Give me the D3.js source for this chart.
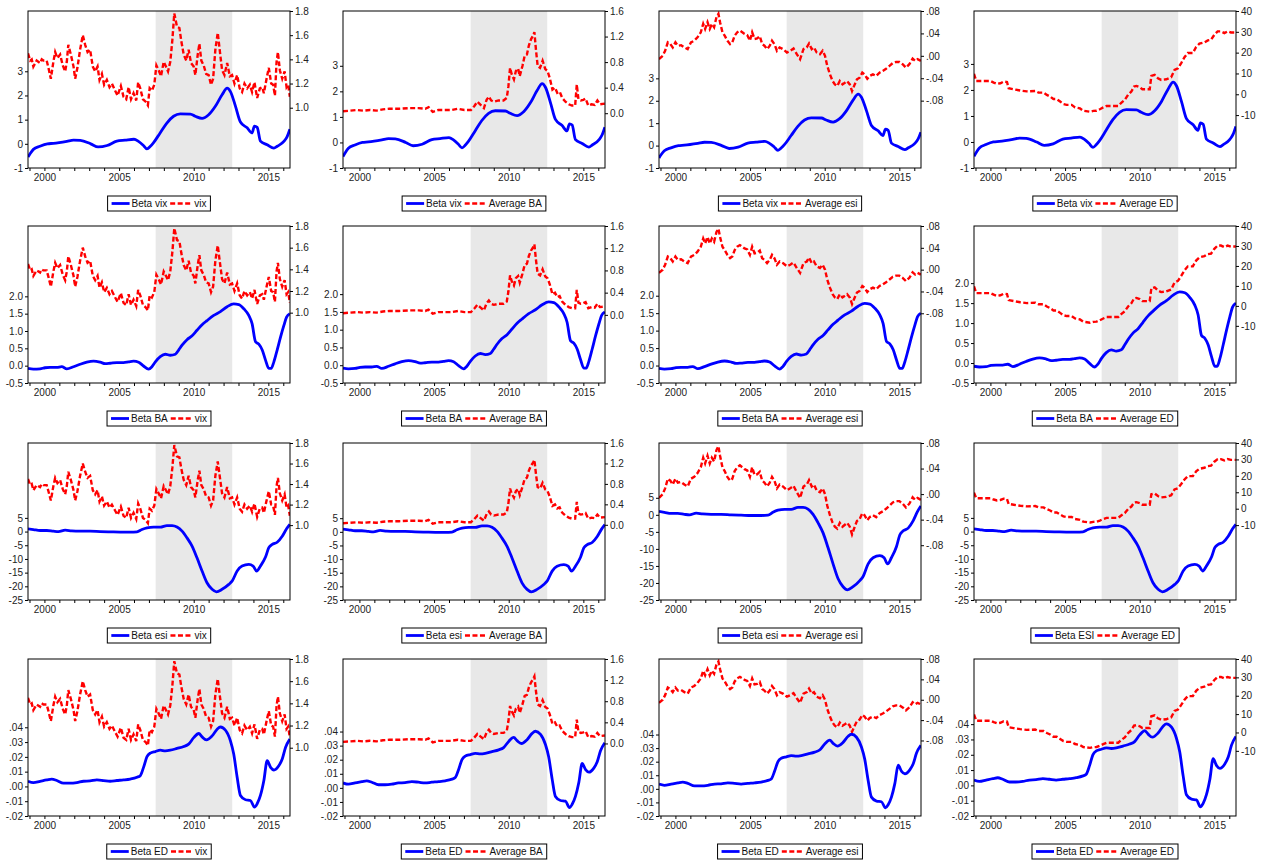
<!DOCTYPE html>
<html>
<head>
<meta charset="utf-8">
<script src="https://cdn.jsdelivr.net/npm/d3@7"></script>
<style>
body { margin: 0; background: #fff; }
text { font-family: "Liberation Sans Narrow", "Arial Narrow", "Liberation Sans", Arial, sans-serif; }
</style>
</head>
<body>
<script>
const W = 1263, H = 862;

// ---- data (fractional years) ----
const betaVix = [[1998.9,-0.55],[1999.05,-0.4],[1999.26,-0.23],[1999.7,-0.1],[2000.2,0.0],[2000.6,0.02],[2001.5,0.1],[2001.95,0.15],[2002.4,0.14],[2003.1,0.0],[2003.6,-0.13],[2004.2,-0.07],[2004.85,0.11],[2005.4,0.15],[2006.0,0.19],[2006.3,0.1],[2006.6,-0.05],[2006.87,-0.21],[2007.1,-0.1],[2007.3,0.04],[2007.75,0.45],[2008.2,0.86],[2008.65,1.14],[2009.1,1.24],[2009.78,1.23],[2010.1,1.14],[2010.56,1.05],[2011.0,1.2],[2011.45,1.55],[2011.9,2.03],[2012.24,2.3],[2012.46,2.16],[2012.8,1.55],[2013.13,0.9],[2013.58,0.66],[2013.9,0.45],[2014.07,0.73],[2014.25,0.68],[2014.47,0.11],[2014.92,-0.04],[2015.37,-0.18],[2015.6,-0.1],[2016.04,0.1],[2016.26,0.3],[2016.44,0.6]];

const betaBA = [[1998.9,-0.08],[1999.26,-0.1],[1999.71,-0.09],[2000.04,-0.06],[2000.38,-0.05],[2000.83,-0.05],[2001.16,-0.03],[2001.5,-0.09],[2001.95,-0.03],[2002.39,0.04],[2002.84,0.1],[2003.29,0.13],[2003.74,0.1],[2004.07,0.06],[2004.4,0.07],[2004.85,0.09],[2005.3,0.09],[2005.64,0.11],[2005.97,0.13],[2006.31,0.1],[2006.64,-0.01],[2006.98,-0.1],[2007.2,-0.03],[2007.43,0.11],[2007.76,0.26],[2008.1,0.33],[2008.43,0.3],[2008.77,0.33],[2008.99,0.45],[2009.22,0.59],[2009.55,0.75],[2009.89,0.86],[2010.22,1.02],[2010.56,1.18],[2010.89,1.3],[2011.34,1.45],[2011.79,1.56],[2012.24,1.7],[2012.68,1.78],[2013.02,1.76],[2013.36,1.64],[2013.69,1.45],[2013.91,1.21],[2014.14,0.69],[2014.36,0.62],[2014.59,0.45],[2014.81,0.16],[2015.03,-0.08],[2015.19,-0.08],[2015.37,0.11],[2015.59,0.45],[2015.82,0.83],[2016.04,1.16],[2016.22,1.4],[2016.44,1.5]];

const betaEsi = [[1998.9,1.0],[1999.26,0.75],[1999.71,0.4],[2000.16,0.4],[2000.6,0.15],[2000.94,0.0],[2001.39,0.5],[2001.83,0.25],[2002.39,0.15],[2003.06,0.15],[2003.74,0.0],[2004.4,-0.1],[2005.08,-0.2],[2005.75,-0.2],[2006.2,-0.1],[2006.53,0.75],[2006.87,1.35],[2007.32,1.6],[2007.76,1.6],[2008.21,2.2],[2008.55,2.2],[2008.88,1.7],[2009.22,0.15],[2009.55,-2.3],[2009.89,-5.3],[2010.22,-9.6],[2010.56,-14.4],[2010.89,-18.7],[2011.23,-21.1],[2011.52,-22.0],[2011.9,-21.1],[2012.35,-19.3],[2012.57,-18.1],[2012.91,-14.4],[2013.24,-12.6],[2013.69,-12.0],[2013.98,-12.6],[2014.21,-14.4],[2014.47,-12.6],[2014.81,-9.3],[2015.03,-5.9],[2015.26,-4.7],[2015.59,-3.9],[2015.93,-1.7],[2016.22,1.0],[2016.44,2.6]];

const betaED = [[1998.9,0.0035],[1999.26,0.0026],[1999.71,0.0035],[2000.16,0.0044],[2000.49,0.005],[2000.83,0.004],[2001.28,0.0022],[2001.72,0.0022],[2002.17,0.0026],[2002.62,0.0035],[2003.06,0.0037],[2003.51,0.0044],[2003.96,0.004],[2004.4,0.0035],[2004.85,0.004],[2005.3,0.0044],[2005.75,0.005],[2006.2,0.0062],[2006.42,0.0073],[2006.64,0.0129],[2006.87,0.0201],[2007.09,0.0225],[2007.43,0.0236],[2007.76,0.0245],[2008.1,0.0241],[2008.43,0.0245],[2008.88,0.0257],[2009.33,0.027],[2009.66,0.0286],[2010.0,0.033],[2010.34,0.0358],[2010.56,0.0335],[2010.85,0.0315],[2011.23,0.0342],[2011.57,0.0387],[2011.79,0.0402],[2012.13,0.038],[2012.46,0.0308],[2012.68,0.0219],[2012.91,0.0062],[2013.13,-0.0061],[2013.47,-0.009],[2013.8,-0.0095],[2014.07,-0.014],[2014.25,-0.0117],[2014.47,-0.0061],[2014.7,0.004],[2014.92,0.0174],[2015.15,0.0129],[2015.37,0.0111],[2015.7,0.014],[2015.93,0.0185],[2016.15,0.0263],[2016.44,0.032]];

const vix = [[1998.9,1.45],[1999.05,1.39],[1999.15,1.40],[1999.26,1.34],[1999.48,1.39],[1999.71,1.37],[1999.82,1.40],[1999.93,1.39],[2000.15,1.39],[2000.27,1.33],[2000.43,1.24],[2000.6,1.38],[2000.72,1.46],[2000.87,1.41],[2001.05,1.44],[2001.23,1.35],[2001.39,1.30],[2001.5,1.38],[2001.6,1.52],[2001.77,1.44],[2001.95,1.34],[2002.06,1.24],[2002.21,1.33],[2002.39,1.48],[2002.57,1.60],[2002.73,1.52],[2002.89,1.46],[2003.06,1.48],[2003.24,1.34],[2003.4,1.30],[2003.56,1.34],[2003.69,1.23],[2003.85,1.28],[2004.0,1.19],[2004.18,1.23],[2004.36,1.17],[2004.52,1.20],[2004.74,1.14],[2004.9,1.10],[2005.12,1.18],[2005.3,1.09],[2005.48,1.07],[2005.64,1.17],[2005.8,1.07],[2005.97,1.12],[2006.15,1.06],[2006.28,1.21],[2006.42,1.16],[2006.6,1.07],[2006.78,1.05],[2006.93,1.02],[2007.05,1.16],[2007.2,1.14],[2007.36,1.19],[2007.5,1.35],[2007.65,1.31],[2007.81,1.26],[2007.99,1.38],[2008.14,1.34],[2008.28,1.30],[2008.43,1.38],[2008.57,1.56],[2008.7,1.78],[2008.88,1.67],[2009.04,1.66],[2009.17,1.55],[2009.33,1.44],[2009.5,1.39],[2009.66,1.48],[2009.82,1.37],[2010.0,1.34],[2010.11,1.27],[2010.27,1.44],[2010.38,1.53],[2010.51,1.39],[2010.67,1.35],[2010.83,1.28],[2011.0,1.27],[2011.16,1.19],[2011.3,1.24],[2011.45,1.48],[2011.61,1.62],[2011.74,1.48],[2011.9,1.31],[2012.06,1.27],[2012.24,1.37],[2012.42,1.26],[2012.57,1.27],[2012.73,1.20],[2012.91,1.27],[2013.08,1.16],[2013.24,1.13],[2013.4,1.20],[2013.58,1.16],[2013.76,1.19],[2013.91,1.13],[2014.07,1.21],[2014.25,1.08],[2014.43,1.16],[2014.59,1.17],[2014.7,1.12],[2014.88,1.24],[2015.03,1.33],[2015.19,1.20],[2015.32,1.19],[2015.44,1.10],[2015.55,1.38],[2015.64,1.46],[2015.77,1.31],[2015.93,1.24],[2016.09,1.30],[2016.22,1.17],[2016.33,1.19],[2016.44,1.09]];

const avgBA = [[1998.9,0.03],[1999.39,0.04],[1999.83,0.05],[2000.26,0.04],[2000.7,0.05],[2001.14,0.04],[2001.57,0.06],[2002.0,0.07],[2002.66,0.07],[2003.32,0.08],[2003.97,0.08],[2004.41,0.07],[2004.63,0.095],[2004.91,0.02],[2005.28,0.05],[2005.72,0.05],[2006.16,0.05],[2006.6,0.07],[2007.03,0.05],[2007.47,0.05],[2007.69,0.11],[2007.9,0.18],[2008.12,0.13],[2008.34,0.08],[2008.52,0.21],[2008.67,0.26],[2008.82,0.2],[2009.0,0.18],[2009.32,0.2],[2009.65,0.2],[2009.87,0.24],[2009.98,0.42],[2010.09,0.71],[2010.2,0.61],[2010.35,0.53],[2010.48,0.66],[2010.63,0.70],[2010.74,0.58],[2010.92,0.74],[2011.07,0.90],[2011.22,0.92],[2011.35,1.06],[2011.5,1.16],[2011.62,1.21],[2011.72,1.27],[2011.83,0.98],[2011.94,0.74],[2012.1,0.71],[2012.27,0.82],[2012.45,0.69],[2012.6,0.66],[2012.75,0.55],[2012.93,0.37],[2013.1,0.40],[2013.25,0.32],[2013.41,0.34],[2013.58,0.24],[2013.8,0.18],[2014.02,0.14],[2014.24,0.12],[2014.45,0.12],[2014.56,0.45],[2014.67,0.22],[2014.83,0.20],[2015.0,0.21],[2015.15,0.23],[2015.33,0.12],[2015.55,0.14],[2015.76,0.13],[2015.94,0.20],[2016.11,0.14],[2016.44,0.15]];

const avgEsi = [[1998.9,-0.006],[1999.15,0.0],[1999.31,0.009],[1999.49,0.024],[1999.66,0.021],[1999.82,0.015],[2000.0,0.024],[2000.16,0.018],[2000.38,0.019],[2000.6,0.015],[2000.82,0.012],[2001.04,0.024],[2001.26,0.027],[2001.48,0.033],[2001.7,0.042],[2001.86,0.057],[2001.99,0.048],[2002.15,0.06],[2002.3,0.048],[2002.44,0.057],[2002.59,0.051],[2002.75,0.069],[2002.88,0.075],[2002.99,0.06],[2003.15,0.042],[2003.3,0.036],[2003.48,0.027],[2003.66,0.021],[2003.81,0.024],[2003.97,0.036],[2004.14,0.042],[2004.32,0.045],[2004.48,0.042],[2004.63,0.039],[2004.81,0.037],[2004.99,0.027],[2005.14,0.042],[2005.3,0.030],[2005.47,0.031],[2005.65,0.035],[2005.81,0.021],[2005.96,0.018],[2006.14,0.012],[2006.32,0.018],[2006.47,0.027],[2006.63,0.021],[2006.8,0.009],[2006.98,0.015],[2007.2,0.012],[2007.47,0.006],[2007.69,0.009],[2007.91,0.013],[2008.13,0.003],[2008.35,-0.006],[2008.58,0.012],[2008.8,0.015],[2008.95,0.022],[2009.13,0.012],[2009.28,0.015],[2009.46,0.006],[2009.68,0.003],[2009.86,0.009],[2010.02,0.0],[2010.17,-0.018],[2010.35,-0.033],[2010.53,-0.045],[2010.68,-0.051],[2010.84,-0.054],[2011.01,-0.045],[2011.19,-0.051],[2011.35,-0.048],[2011.5,-0.045],[2011.68,-0.051],[2011.83,-0.063],[2012.01,-0.051],[2012.16,-0.042],[2012.34,-0.039],[2012.52,-0.030],[2012.67,-0.033],[2012.85,-0.041],[2013.01,-0.036],[2013.23,-0.033],[2013.45,-0.036],[2013.67,-0.030],[2013.89,-0.027],[2014.11,-0.023],[2014.34,-0.018],[2014.56,-0.013],[2014.78,-0.011],[2015.0,-0.011],[2015.22,-0.015],[2015.44,-0.021],[2015.67,-0.015],[2015.89,-0.005],[2016.06,-0.009],[2016.22,-0.006],[2016.44,-0.009]];

const avgED = [[1998.9,9.8],[1999.05,6.4],[1999.56,6.4],[2000.0,6.4],[2000.22,5.6],[2000.44,5.0],[2000.67,5.3],[2000.89,6.1],[2001.11,5.9],[2001.22,2.9],[2001.56,2.4],[2002.0,1.8],[2002.44,1.4],[2003.0,1.6],[2003.22,0.8],[2003.56,0.8],[2003.78,-0.3],[2004.0,-1.1],[2004.22,-2.3],[2004.44,-2.3],[2004.67,-3.5],[2004.89,-4.7],[2005.11,-5.1],[2005.44,-5.1],[2005.67,-6.3],[2006.0,-6.8],[2006.22,-7.9],[2006.67,-8.4],[2006.89,-8.0],[2007.11,-7.9],[2007.33,-7.2],[2007.56,-6.3],[2007.78,-5.6],[2008.22,-5.6],[2008.56,-5.6],[2008.78,-4.0],[2009.0,-2.7],[2009.22,-0.3],[2009.44,1.3],[2009.62,3.7],[2009.78,4.0],[2010.0,3.4],[2010.18,2.4],[2010.44,2.4],[2010.67,2.4],[2010.78,8.8],[2011.0,9.3],[2011.22,7.7],[2011.44,6.9],[2011.78,7.2],[2012.11,8.2],[2012.33,11.7],[2012.56,12.5],[2012.78,15.0],[2013.0,17.8],[2013.22,19.8],[2013.56,19.8],[2013.78,22.7],[2014.0,24.3],[2014.33,24.9],[2014.56,25.9],[2014.78,26.2],[2015.0,28.6],[2015.22,30.2],[2015.44,30.2],[2015.67,29.4],[2015.89,30.2],[2016.11,29.7],[2016.44,29.7]];

const betaSeries = [betaVix, betaBA, betaEsi, betaED];
const avgSeries = [vix, avgBA, avgEsi, avgED];
const betaNames = ["Beta vix", "Beta BA", "Beta esi", "Beta ED"];
const avgNames = ["vix", "Average BA", "Average esi", "Average ED"];

// tick values / labels
const leftTicks = [[-1, 0, 1, 2, 3], [-0.5, 0, 0.5, 1, 1.5, 2], [-25, -20, -15, -10, -5, 0, 5], [-0.02, -0.01, 0, 0.01, 0.02, 0.03, 0.04]];
const leftLabels = [["-1", "0", "1", "2", "3"], ["-0.5", "0.0", "0.5", "1.0", "1.5", "2.0"], ["-25", "-20", "-15", "-10", "-5", "0", "5"], ["-.02", "-.01", ".00", ".01", ".02", ".03", ".04"]];
const rightTicks = [[1.0, 1.2, 1.4, 1.6, 1.8], [0, 0.4, 0.8, 1.2, 1.6], [-0.08, -0.04, 0, 0.04, 0.08], [-10, 0, 10, 20, 30, 40]];
const rightLabels = [["1.0", "1.2", "1.4", "1.6", "1.8"], ["0.0", "0.4", "0.8", "1.2", "1.6"], ["-.08", "-.04", ".00", ".04", ".08"], ["-10", "0", "10", "20", "30", "40"]];
const yearTicks = d3.range(1999, 2017);
const shadeSpan = [2007.45, 2012.58];

// share of the panel height each axis' tick range takes (per panel)
const share = [
  [0.616, 0.651, 0.571, 0.663],
  [0.552, 0.566, 0.556, 0.636],
  [0.523, 0.521, 0.651, 0.523],
  [0.565, 0.538, 0.519, 0.585]
];

const colLeft = [28, 343, 659, 974];
const rowTop = [11, 226, 443, 659];
const PW = 262, PH = 157;

const svg = d3.select("body").append("svg")
  .attr("width", W).attr("height", H);

const x = d3.scaleLinear().domain([1998.9, 2016.45]).range([0, PW]);

svg.append("defs").append("clipPath").attr("id", "plotclip")
  .append("rect").attr("width", PW).attr("height", PH);

const styleAxis = g => {
  g.select(".domain").remove();
  g.selectAll("line").attr("stroke", "#000");
  g.selectAll("text").attr("font-size", 10).attr("fill", "#222");
};

for (let r = 0; r < 4; r++) {
  for (let c = 0; c < 4; c++) {
    const f = share[r][c];
    const g = svg.append("g").attr("transform", `translate(${colLeft[c]},${rowTop[r]})`);

    const lt = leftTicks[r];
    const lo = lt[0], hi = lt[lt.length - 1];
    const yL = d3.scaleLinear().domain([lo, lo + (hi - lo) / f]).range([PH, 0]);
    const rt = rightTicks[c];
    const rb = rt[0], rtop = rt[rt.length - 1];
    const yR = d3.scaleLinear().domain([rtop - (rtop - rb) / f, rtop]).range([PH, 0]);

    g.append("rect")
      .attr("x", x(shadeSpan[0])).attr("width", x(shadeSpan[1]) - x(shadeSpan[0]))
      .attr("y", 0).attr("height", PH)
      .attr("fill", "#e8e8e8");

    const lines = g.append("g").attr("clip-path", "url(#plotclip)");

    lines.append("path")
      .datum(avgSeries[c])
      .attr("fill", "none")
      .attr("stroke", "#ff0000")
      .attr("stroke-width", 2.4)
      .attr("stroke-dasharray", "5,2.5")
      .attr("d", d3.line().x(d => x(d[0])).y(d => yR(d[1])));

    lines.append("path")
      .datum(betaSeries[r])
      .attr("fill", "none")
      .attr("stroke", "#0000ff")
      .attr("stroke-width", 2.8)
      .attr("d", d3.line().curve(d3.curveMonotoneX).x(d => x(d[0])).y(d => yL(d[1])));

    g.append("g")
      .call(d3.axisLeft(yL).tickValues(lt).tickFormat((d, i) => leftLabels[r][i]).tickSize(3).tickPadding(2))
      .call(styleAxis);

    g.append("g").attr("transform", `translate(${PW},0)`)
      .call(d3.axisRight(yR).tickValues(rt).tickFormat((d, i) => rightLabels[c][i]).tickSize(3).tickPadding(2))
      .call(styleAxis);

    g.append("g").attr("transform", `translate(0,${PH})`)
      .call(d3.axisBottom(x).tickValues(yearTicks).tickFormat(d => d % 5 === 0 ? d : "").tickSize(3).tickPadding(3))
      .call(styleAxis);

    g.append("rect")
      .attr("width", PW).attr("height", PH)
      .attr("fill", "none").attr("stroke", "#000").attr("stroke-width", 1);

    // legend
    const blueName = (r === 2 && c === 3) ? "Beta ESI" : betaNames[r];
    const lg = g.append("g").attr("transform", `translate(0,${PH + 28})`);
    const box = lg.append("rect").attr("height", 15).attr("fill", "#fff").attr("stroke", "#000");
    const t1 = lg.append("text").attr("font-size", 10).attr("fill", "#111").attr("y", 11).text(blueName);
    const t2 = lg.append("text").attr("font-size", 10).attr("fill", "#111").attr("y", 11).text(avgNames[c]);
    const w1 = t1.node().getComputedTextLength(), w2 = t2.node().getComputedTextLength();
    const total = 4 + 18 + 2 + w1 + 3 + 20 + 4 + w2 + 4;
    const x0 = PW / 2 - total / 2;
    box.attr("x", x0).attr("width", total);
    lg.append("line").attr("x1", x0 + 4).attr("x2", x0 + 22).attr("y1", 7.5).attr("y2", 7.5)
      .attr("stroke", "#0000ff").attr("stroke-width", 2.8);
    t1.attr("x", x0 + 24);
    const xd = x0 + 24 + w1 + 3;
    lg.append("line").attr("x1", xd).attr("x2", xd + 20).attr("y1", 7.5).attr("y2", 7.5)
      .attr("stroke", "#ff0000").attr("stroke-width", 2.4).attr("stroke-dasharray", "5,2.5");
    t2.attr("x", xd + 24);
  }
}
</script>
</body>
</html>
